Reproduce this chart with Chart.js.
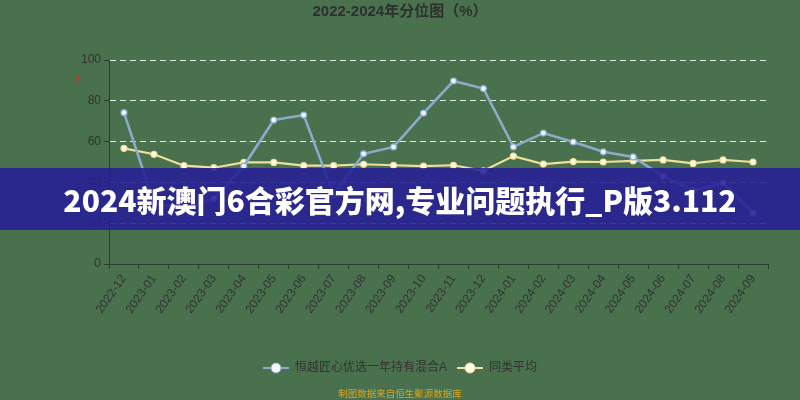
<!DOCTYPE html>
<html><head><meta charset="utf-8">
<script src="https://cdn.jsdelivr.net/npm/chart.js@4/dist/chart.umd.min.js"></script>
<style>
html,body{margin:0;padding:0;background:#49714d;}
#wrap{position:relative;width:800px;height:400px;overflow:hidden;}
#c{position:absolute;left:0;top:0;}
#banner{position:absolute;left:0;top:168px;width:800px;height:62px;background:rgba(38,30,150,0.88);color:#fff;font:900 30px 'Noto Sans CJK SC','DejaVu Sans',sans-serif;line-height:62px;text-align:center;white-space:nowrap;letter-spacing:0px;}
#mark{position:absolute;left:74px;top:74px;color:#d0302a;font:bold 10px 'DejaVu Sans',sans-serif;transform:rotate(-20deg);}
</style></head>
<body><div id="wrap"><canvas id="c" width="800" height="400"></canvas><span id="mark">✗</span><div id="banner">2024新澳门6合彩官方网,专业问题执行_P版3.112</div></div>
<script>
const categories = ['2022-12','2023-01','2023-02','2023-03','2023-04','2023-05','2023-06','2023-07','2023-08','2023-09','2023-10','2023-11','2023-12','2024-01','2024-02','2024-03','2024-04','2024-05','2024-06','2024-07','2024-08','2024-09'];
const fundValues = [74.2,30,27,32,48,70.6,73,34,54,57.4,74,89.7,86,57.4,64.2,59.8,55,52.5,43,36,39.7,25];
const peerAverage = [56.7,53.8,48.2,47.2,49.8,49.8,48.2,48.2,48.9,48.4,48,48.4,45.7,52.9,49,50.2,50,50.6,51,49.3,51,50];
const yTicks = [0,20,40,60,80,100];
const seriesNames = ['恒越匠心优选一年持有混合A','同类平均'];
const titleText = '2022-2024年分位图（%）';
const footerText = '制图数据来自恒生聚源数据库';

const FONT = "'Liberation Sans','Noto Sans CJK SC',sans-serif";
const blue = '#8cabcc', yellow = '#eee09a';

function marker(lineColor, fill){
  const cv = document.createElement('canvas'); cv.width = 26; cv.height = 12;
  const g = cv.getContext('2d');
  g.strokeStyle = lineColor; g.lineWidth = 2;
  g.beginPath(); g.moveTo(0,6); g.lineTo(26,6); g.stroke();
  g.beginPath(); g.arc(13,6,5,0,Math.PI*2); g.fillStyle = fill; g.fill();
  g.lineWidth = 1; g.strokeStyle = lineColor; g.stroke();
  return cv;
}
const markers = [marker(blue,'#f2f7fc'), marker(yellow,'#fffbe4')];

new Chart(document.getElementById('c'), {
  type: 'line',
  data: {
    labels: categories,
    datasets: [
      {label: seriesNames[0], data: fundValues, borderColor: blue, borderWidth: 2.6, pointRadius: 3, pointBackgroundColor: '#eef4fa', pointBorderColor: blue, pointBorderWidth: 1.2, tension: 0},
      {label: seriesNames[1], data: peerAverage, borderColor: yellow, borderWidth: 2.2, pointRadius: 3, pointBackgroundColor: '#fffbe4', pointBorderColor: yellow, pointBorderWidth: 1.2, tension: 0}
    ]
  },
  options: {
    responsive: false, animation: false, devicePixelRatio: 1,
    layout: {padding: {left: 0, right: 0, top: 0, bottom: 0}},
    plugins: {
      tooltip: {enabled: false},
      title: {display: true, text: titleText, color: '#2f2f2f', font: {family: FONT, size: 15, weight: 'bold'}, padding: {top: 3, bottom: 39}},
      subtitle: {display: true, position: 'bottom', text: footerText, color: '#d8a526', font: {family: FONT, size: 9.5}, padding: {top: 4.6, bottom: 0}},
      legend: {
        position: 'bottom',
        labels: {
          usePointStyle: true, pointStyleWidth: 26, padding: 10, color: '#333',
          font: {family: FONT, size: 12},
          generateLabels: (chart) => chart.data.datasets.map((d, i) => ({
            text: d.label, pointStyle: markers[i], datasetIndex: i, fontColor: '#333', lineWidth: 0, strokeStyle: 'rgba(0,0,0,0)', fillStyle: 'rgba(0,0,0,0)'
          }))
        }
      }
    },
    scales: {
      x: {
        offset: true,
        afterFit: (s) => { s.height = 88; },
        grid: {display: true, drawOnChartArea: false, drawTicks: true, tickLength: 5, tickColor: '#2e3b2f', offset: true},
        border: {display: true, color: '#2e3b2f', width: 1},
        ticks: {color: '#333', font: {family: FONT, size: 12}, minRotation: 55, maxRotation: 55, padding: 3, autoSkip: false}
      },
      y: {
        min: 0, max: 100,
        afterFit: (s) => { s.width = 109; },
        afterBuildTicks: (s) => { s.ticks = yTicks.map(v => ({value: v})); },
        grid: {
          color: (ctx) => (ctx.tick && ctx.tick.value === 0) ? 'rgba(0,0,0,0)' : 'rgba(255,255,255,0.85)',
          lineWidth: 1, drawTicks: true, tickLength: 5, tickColor: '#2e3b2f', tickBorderDash: []
        },
        border: {display: true, color: '#2e3b2f', width: 1, dash: [6,4]},
        ticks: {color: '#333', font: {family: FONT, size: 12}, padding: 3}
      },
      yRight: {
        position: 'right', min: 0, max: 100,
        afterFit: (s) => { s.width = 32; },
        grid: {display: false, drawOnChartArea: false},
        border: {display: false},
        ticks: {display: false}
      }
    }
  }
});
</script>
</body></html>
